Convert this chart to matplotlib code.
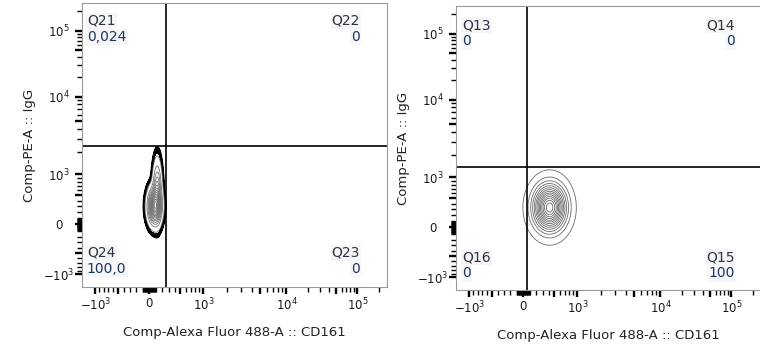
import numpy as np
import matplotlib
matplotlib.use("Agg")
import matplotlib.pyplot as plt
from matplotlib.ticker import FixedLocator, FixedFormatter, NullFormatter

plt.rcParams['font.family'] = ['DejaVu Sans']
plt.rcParams['mathtext.default'] = 'regular'

# ---------------- data ----------------
x_label = "Comp-Alexa Fluor 488-A :: CD161"
y_label = "Comp-PE-A :: IgG"

tick_values = [-1e3, 0, 1e3, 1e4, 1e5]
tick_labels = [r"$-10^3$", "0", r"$10^3$", r"$10^4$", r"$10^5$"]

# quadrant gates (x threshold, y threshold)
left_gate = (250, 2400)
right_gate = (50, 1400)

# quadrant names and percentages: [top-left, top-right, bottom-right, bottom-left]
left_quads = ["Q21", "Q22", "Q23", "Q24"]
left_pcts = ["0,024", "0", "0", "100,0"]
right_quads = ["Q13", "Q14", "Q15", "Q16"]
right_pcts = ["0", "0", "100", "0"]

# populations: centre (data values) and spread (in display units of the biex axis)
left_pop_centres = [(80, 300), (120, 600)]
left_pop_spreads = [(0.012, 0.034), (0.008, 0.055)]
left_pop_weights = [1.0, 0.4]
right_pop_centres = [(415, 330)]
right_pop_spreads = [(0.033, 0.05)]
right_pop_weights = [1.0]

# ---------------- biexponential-like axis scale ----------------
W = 700.0
ANCH_V = np.array([-1e3, 0, 1e3, 1e4, 1e5, 262144])
ANCH_F = np.array([0.046, 0.222, 0.399, 0.671, 0.903, 1.0])
ANCH_U = np.arcsinh(ANCH_V / W)
AX_MIN, AX_MAX = -1400, 262144


def fwd(x):
    u = np.arcsinh(np.asarray(x, dtype=float) / W)
    f = np.interp(u, ANCH_U, ANCH_F)
    s0 = (ANCH_F[1] - ANCH_F[0]) / (ANCH_U[1] - ANCH_U[0])
    s1 = (ANCH_F[-1] - ANCH_F[-2]) / (ANCH_U[-1] - ANCH_U[-2])
    f = np.where(u < ANCH_U[0], ANCH_F[0] + (u - ANCH_U[0]) * s0, f)
    f = np.where(u > ANCH_U[-1], ANCH_F[-1] + (u - ANCH_U[-1]) * s1, f)
    return f


def inv(f):
    f = np.asarray(f, dtype=float)
    u = np.interp(f, ANCH_F, ANCH_U)
    s0 = (ANCH_U[1] - ANCH_U[0]) / (ANCH_F[1] - ANCH_F[0])
    s1 = (ANCH_U[-1] - ANCH_U[-2]) / (ANCH_F[-1] - ANCH_F[-2])
    u = np.where(f < ANCH_F[0], ANCH_U[0] + (f - ANCH_F[0]) * s0, u)
    u = np.where(f > ANCH_F[-1], ANCH_U[-1] + (f - ANCH_F[-1]) * s1, u)
    return W * np.sinh(u)


# minor tick values
minor = [0.0]
for e in range(1, 6):
    for k in range(1, 10):
        v = k * 10 ** e
        if v <= AX_MAX:
            minor.append(float(v))
        if v <= 1000:
            minor.append(-float(v))
mid = [-500.0, 500.0, 5e3, 5e4]
minor_thin = sorted(m for m in set(minor) if m not in mid and m not in tick_values)
major_all = sorted(tick_values + mid)
major_labels = [tick_labels[tick_values.index(v)] if v in tick_values else "" for v in major_all]


def style_axis(ax):
    ax.set_xscale('function', functions=(fwd, inv))
    ax.set_yscale('function', functions=(fwd, inv))
    ax.set_xlim(AX_MIN, AX_MAX)
    ax.set_ylim(AX_MIN, AX_MAX)
    for a in (ax.xaxis, ax.yaxis):
        a.remove_overlapping_locs = False
        a.set_major_locator(FixedLocator(major_all))
        a.set_major_formatter(FixedFormatter(major_labels))
        a.set_minor_locator(FixedLocator(minor_thin))
        a.set_minor_formatter(NullFormatter())
    ax.tick_params(which='major', direction='out', length=4.8, width=1.7, color='black',
                   labelsize=8.5, labelcolor='#1a1a1a')
    ax.tick_params(which='minor', direction='out', length=3.4, width=1.0, color='black')
    ax.tick_params(axis='x', which='major', pad=2.5)
    ax.tick_params(axis='y', which='major', pad=12)
    for lab in ax.get_yticklabels():
        lab.set_horizontalalignment('center')
    for sp in ax.spines.values():
        sp.set_color('#9a9a9a')
        sp.set_linewidth(0.8)
    ax.set_xlabel(x_label, fontsize=9.5, color='#222222', labelpad=9)
    ax.set_ylabel(y_label, fontsize=9.5, color='#222222', labelpad=5)


def density(centres, spreads, weights):
    fx = np.linspace(0, 1, 600)
    fy = np.linspace(0, 1, 600)
    FX, FY = np.meshgrid(fx, fy)
    Z = np.zeros_like(FX)
    for (cx, cy), (sx, sy), w in zip(centres, spreads, weights):
        px, py = fwd(cx), fwd(cy)
        Z += w * np.exp(-0.5 * (((FX - px) / sx) ** 2 + ((FY - py) / sy) ** 2))
    Z /= Z.max()
    return inv(FX), inv(FY), Z


def quad_text(ax, names, pcts, xl, xr, yt, yb, dy):
    qc = '#2b3445'
    pc = '#1c3563'
    bb = dict(facecolor='#f6f6f6', edgecolor='none', pad=1.0)
    kw = dict(transform=ax.transAxes, fontsize=10, va='center')
    ax.text(xl, yt, names[0], color=qc, ha='left', bbox=bb, **kw)
    ax.text(xl, yt - dy, pcts[0], color=pc, ha='left', bbox=bb, **kw)
    ax.text(xr, yt, names[1], color=qc, ha='right', bbox=bb, **kw)
    ax.text(xr, yt - dy, pcts[1], color=pc, ha='right', bbox=bb, **kw)
    ax.text(xr, yb, names[2], color=qc, ha='right', bbox=bb, **kw)
    ax.text(xr, yb - dy, pcts[2], color=pc, ha='right', bbox=bb, **kw)
    ax.text(xl, yb, names[3], color=qc, ha='left', bbox=bb, **kw)
    ax.text(xl, yb - dy, pcts[3], color=pc, ha='left', bbox=bb, **kw)


fig = plt.figure(figsize=(7.6, 3.54), dpi=100)
ax1 = fig.add_axes([82 / 760, (354 - 287) / 354, 305 / 760, 284 / 354])
ax2 = fig.add_axes([456 / 760, (354 - 290) / 354, 305 / 760, 284 / 354])

for ax in (ax1, ax2):
    style_axis(ax)

levels = np.linspace(0.03, 0.95, 14)

# left panel
X, Y, Z = density(left_pop_centres, left_pop_spreads, left_pop_weights)
ax1.contourf(X, Y, Z, levels=[0.007, 0.02], colors=['black'])
ax1.contour(X, Y, Z, levels=[0.007], colors=['black'], linewidths=0.9)
ax1.contour(X, Y, Z, levels=levels, colors=['#707070'], linewidths=0.6)
ax1.axvline(left_gate[0], color='black', lw=1.2)
ax1.axhline(left_gate[1], color='black', lw=1.2)
quad_text(ax1, left_quads, left_pcts, 0.016, 0.911, 0.937, 0.12, 0.057)

# right panel
X, Y, Z = density(right_pop_centres, right_pop_spreads, right_pop_weights)
ax2.contour(X, Y, Z, levels=levels, colors=['#6a6a6a'], linewidths=0.6)
ax2.axvline(right_gate[0], color='black', lw=1.2)
ax2.axhline(right_gate[1], color='black', lw=1.2)
quad_text(ax2, right_quads, right_pcts, 0.02, 0.915, 0.933, 0.116, 0.057)

fig.savefig("out.png", dpi=100)
